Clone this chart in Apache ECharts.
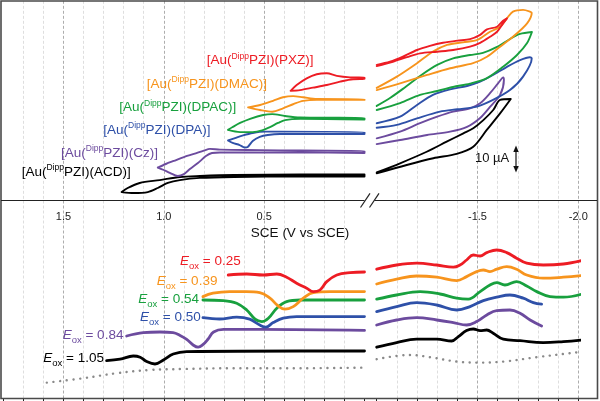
<!DOCTYPE html>
<html>
<head>
<meta charset="utf-8">
<script src="https://cdn.jsdelivr.net/npm/echarts@6.0.0/dist/echarts.min.js"></script>
<style>
html,body{margin:0;padding:0;background:#fff;}
#chart{width:600px;height:401px;}
</style>
</head>
<body>
<div id="chart"></div>
<script>
// ---------- DATA (potential in V vs SCE; CV current in µA with offsets; DPV in a.u. with offsets) ----------
const compounds = ['PXZ', 'DMAC', 'DPAC', 'DPA', 'Cz', 'ACD'];
const eoxLabels = ['0.25', '0.39', '0.54', '0.50', '0.84', '1.05'];
const leftTickLabels = ['1.5', '1.0', '0.5'];
const rightTickLabels = ['-1.5', '-2.0'];

// CV, oxidation side (left)
const cvPXZ_L = [[0.368,45.5],[0.338,47.9],[0.288,50.7],[0.238,52.4],[0.188,52.8],[0.138,51.7],[0.072,51.1],[0.0,51.0],[0.0,50.4],[0.057,50.3],[0.122,49.3],[0.188,47.9],[0.257,46.8],[0.321,45.8],[0.368,45.5]];
const cvDMAC_L = [[0.58,38.6],[0.52,39.6],[0.456,41.3],[0.406,42.8],[0.356,43.3],[0.306,42.8],[0.237,42.1],[0.0,42.0],[0.0,41.7],[0.237,41.7],[0.306,41.3],[0.356,39.9],[0.406,38.2],[0.46,36.8],[0.52,37.5],[0.58,38.6]];
const cvDPAC_L = [[0.68,29.2],[0.657,30.4],[0.62,32.1],[0.57,33.8],[0.505,35.4],[0.46,35.8],[0.396,35.0],[0.321,34.4],[0.0,34.2],[0.0,33.5],[0.321,33.8],[0.396,33.3],[0.431,32.1],[0.471,30.4],[0.51,29.0],[0.557,28.3],[0.62,28.3],[0.68,29.2]];
const cvDPA_L = [[0.68,24.8],[0.645,25.8],[0.605,26.9],[0.557,27.9],[0.497,28.5],[0.421,28.5],[0.0,28.3],[0.0,27.5],[0.421,27.5],[0.482,27.1],[0.522,26.3],[0.557,24.6],[0.582,22.1],[0.597,21.9],[0.622,22.9],[0.657,23.8],[0.68,24.8]];
const cvCz_L = [[1.03,13.5],[0.99,15.0],[0.95,16.3],[0.90,17.9],[0.85,19.2],[0.80,20.6],[0.77,21.3],[0.72,21.0],[0.52,20.8],[0.32,20.6],[0.0,20.4],[0.0,19.6],[0.32,19.8],[0.52,19.8],[0.72,19.8],[0.76,19.6],[0.79,18.3],[0.83,15.4],[0.87,12.9],[0.90,10.8],[0.93,10.0],[0.97,11.3],[1.00,12.5],[1.03,13.5]];
const cvACD_L = [[1.21,3.3],[1.18,5.0],[1.12,7.1],[1.02,8.3],[0.92,9.6],[0.82,10.0],[0.65,10.4],[0.32,10.6],[0.0,10.6],[0.0,9.8],[0.32,9.8],[0.65,9.6],[0.82,9.2],[0.92,8.3],[0.98,7.1],[1.03,5.0],[1.08,3.3],[1.15,2.9],[1.21,3.3]];

// CV, reduction side (right)
const cvPXZ_R = [[-1.0,56.3],[-1.066,57.6],[-1.13,59.7],[-1.2,62.5],[-1.264,64.2],[-1.329,65.5],[-1.4,66.4],[-1.463,67.0],[-1.513,68.8],[-1.547,71.1],[-1.597,72.2],[-1.627,74.7],[-1.646,75.7],[-1.627,73.6],[-1.597,70.1],[-1.562,68.0],[-1.513,65.5],[-1.463,63.9],[-1.379,62.5],[-1.3,61.8],[-1.215,61.1],[-1.15,59.5],[-1.08,57.6],[-1.0,55.8]];
const cvDMAC_R = [[-1.0,46.7],[-1.1,51.4],[-1.2,57.0],[-1.279,61.8],[-1.349,64.6],[-1.428,65.7],[-1.5,66.7],[-1.562,70.1],[-1.612,72.2],[-1.646,75.7],[-1.676,78.5],[-1.726,79.2],[-1.76,78.5],[-1.769,78.0],[-1.746,73.6],[-1.676,68.0],[-1.612,63.9],[-1.547,59.7],[-1.478,57.0],[-1.364,54.9],[-1.25,52.1],[-1.116,48.6],[-1.0,45.8]];
const cvDPAC_R = [[-1.0,39.2],[-1.066,42.5],[-1.13,46.3],[-1.215,51.7],[-1.3,56.3],[-1.379,59.0],[-1.463,60.4],[-1.527,61.3],[-1.597,63.8],[-1.661,67.1],[-1.711,69.2],[-1.77,70.0],[-1.746,65.4],[-1.696,60.4],[-1.627,55.5],[-1.547,50.8],[-1.463,48.5],[-1.379,47.1],[-1.3,45.4],[-1.215,43.8],[-1.116,40.4],[-1.0,37.5]];
const cvDPA_R = [[-1.0,32.0],[-1.116,34.7],[-1.2,39.6],[-1.279,43.8],[-1.364,46.1],[-1.448,47.5],[-1.513,49.3],[-1.577,52.1],[-1.646,55.5],[-1.711,58.3],[-1.76,59.5],[-1.769,59.0],[-1.726,51.4],[-1.661,45.8],[-1.577,41.7],[-1.497,38.9],[-1.4,37.8],[-1.314,36.8],[-1.2,34.0],[-1.1,31.3],[-1.0,30.1]];
const cvCz_R = [[-1.0,25.7],[-1.116,28.5],[-1.215,32.0],[-1.3,34.7],[-1.379,36.8],[-1.463,38.2],[-1.513,40.3],[-1.562,44.5],[-1.602,48.6],[-1.628,51.1],[-1.631,50.0],[-1.612,43.8],[-1.562,38.8],[-1.513,34.2],[-1.448,30.5],[-1.364,28.5],[-1.25,27.1],[-1.116,25.0],[-1.0,23.3]];
const cvACD_R = [[-1.0,11.5],[-1.116,15.3],[-1.248,20.1],[-1.347,24.3],[-1.43,27.8],[-1.479,29.9],[-1.529,33.3],[-1.578,37.5],[-1.612,41.7],[-1.665,42.1],[-1.612,36.1],[-1.546,29.2],[-1.479,22.2],[-1.397,19.2],[-1.281,17.4],[-1.149,14.6],[-1.0,11.1]];

// DPV, oxidation side (left)
const dpvPXZ_L = [[0.679,62],[0.587,62.5],[0.504,62],[0.437,62.5],[0.388,60.9],[0.338,57.9],[0.288,55.4],[0.255,53.7],[0.222,54.5],[0.188,58.7],[0.138,62],[0.072,63.2],[0.0,63.5]];
const dpvDMAC_L = [[0.805,51.2],[0.755,52.9],[0.672,53.7],[0.589,53.7],[0.522,53.2],[0.471,50.4],[0.43,46.5],[0.397,44.9],[0.355,46.2],[0.305,50.4],[0.255,53.2],[0.172,53.7],[0.0,53.7]];
const dpvDPAC_L = [[0.805,49.5],[0.703,49.2],[0.637,47.9],[0.587,44.5],[0.545,39.9],[0.512,38.7],[0.479,40.4],[0.437,45.4],[0.388,48.7],[0.321,49.5],[0.0,49.5]];
const dpvDPA_L = [[0.805,40.7],[0.722,40.0],[0.637,40.9],[0.572,39.9],[0.522,37.0],[0.492,35.9],[0.455,38.2],[0.405,40.4],[0.338,41.2],[0.0,41.2]];
const dpvCz_L = [[1.185,31.5],[1.102,33.2],[1.019,33.5],[0.954,33.2],[0.919,31.8],[0.886,29.8],[0.854,27.0],[0.829,25.9],[0.804,27.3],[0.779,30.0],[0.752,33.5],[0.702,34.8],[0.52,34.8],[0.0,34.3]];
const dpvACD_L = [[1.285,19.2],[1.218,19.9],[1.152,21.5],[1.118,20.9],[1.085,18.7],[1.044,17.5],[1.002,19.5],[0.953,22.5],[0.886,23.7],[0.321,24.0],[0.0,24.0]];
const dpvBlank_L = [[1.583,8.2],[1.401,10.4],[1.235,12.9],[1.069,14.5],[0.903,15.0],[0.655,15.4],[0.321,15.4],[0.0,15.7]];

// DPV, reduction side (right)
const dpvPXZ_R = [[-1.0,64.9],[-1.099,67.0],[-1.198,67.9],[-1.298,67.0],[-1.38,65.9],[-1.413,67.0],[-1.446,69.5],[-1.479,72.0],[-1.513,71.5],[-1.546,73.2],[-1.595,74.5],[-1.645,73.2],[-1.694,70.4],[-1.744,67.9],[-1.826,67.0],[-1.926,67.5],[-2.017,69.2]];
const dpvDMAC_R = [[-1.0,57.5],[-1.099,59.9],[-1.198,61.5],[-1.298,60.9],[-1.397,59.2],[-1.446,61.2],[-1.496,63.7],[-1.529,64.5],[-1.562,63.7],[-1.595,64.9],[-1.645,66.2],[-1.694,64.9],[-1.744,62.0],[-1.826,60.4],[-1.926,60.9],[-2.017,61.7]];
const dpvDPAC_R = [[-1.0,49.9],[-1.099,52.0],[-1.215,53.7],[-1.314,52.5],[-1.397,50.4],[-1.454,49.9],[-1.513,53.7],[-1.562,57.0],[-1.595,58.2],[-1.636,57.0],[-1.694,58.7],[-1.744,56.5],[-1.794,53.7],[-1.86,51.2],[-1.926,50.9],[-2.017,52.4]];
const dpvDPA_R = [[-1.0,43.7],[-1.099,46.2],[-1.198,48.2],[-1.298,47.0],[-1.397,44.5],[-1.463,46.2],[-1.529,49.2],[-1.595,50.9],[-1.661,52.0],[-1.727,50.4],[-1.777,48.2],[-1.818,47.4]];
const dpvCz_R = [[-1.0,37.0],[-1.099,39.5],[-1.198,40.7],[-1.298,39.5],[-1.38,38.2],[-1.446,37.0],[-1.496,38.7],[-1.546,42.0],[-1.595,44.2],[-1.661,44.5],[-1.711,42.9],[-1.761,39.5],[-1.818,36.5]];
const dpvACD_R = [[-1.0,25.9],[-1.099,28.2],[-1.198,29.9],[-1.298,29.9],[-1.372,29.0],[-1.405,31.2],[-1.446,34.2],[-1.479,35.0],[-1.513,34.2],[-1.546,34.5],[-1.578,32.9],[-1.628,29.9],[-1.711,29.2],[-1.826,28.2],[-1.926,28.7],[-2.017,29.5]];
const dpvBlank_R = [[-1.0,19.9],[-1.165,22.0],[-1.264,20.9],[-1.397,18.7],[-1.496,18.2],[-1.628,18.7],[-1.794,20.9],[-1.959,22.9],[-2.091,24.5]];

// ---------- STYLE ----------
const FONT = '"Liberation Sans", Arial, Helvetica, sans-serif';
const COLORS = {PXZ:'#ed1c24', DMAC:'#f7941d', DPAC:'#18a03e', DPA:'#2e50a8', Cz:'#6c4b9e', ACD:'#000000'};
const MAJOR = '#adadad', MINOR = '#dedede';

const cvL = {PXZ:cvPXZ_L, DMAC:cvDMAC_L, DPAC:cvDPAC_L, DPA:cvDPA_L, Cz:cvCz_L, ACD:cvACD_L};
const cvR = {PXZ:cvPXZ_R, DMAC:cvDMAC_R, DPAC:cvDPAC_R, DPA:cvDPA_R, Cz:cvCz_R, ACD:cvACD_R};
const dpvL = {PXZ:dpvPXZ_L, DMAC:dpvDMAC_L, DPAC:dpvDPAC_L, DPA:dpvDPA_L, Cz:dpvCz_L, ACD:dpvACD_L};
const dpvR = {PXZ:dpvPXZ_R, DMAC:dpvDMAC_R, DPAC:dpvDPAC_R, DPA:dpvDPA_R, Cz:dpvCz_R, ACD:dpvACD_R};

function leftFmt(v){ const k = Math.round(v*10); const s=(k/10).toFixed(1); return (k>0 && k%5===0 && leftTickLabels.indexOf(s)>=0) ? s : ''; }
function rightFmt(v){ const k = Math.round(v*10); const s=(k/10).toFixed(1); return (rightTickLabels.indexOf(s)>=0) ? s : ''; }

function xAxis(gridIndex, min, max, showAxis, fmt, isLeft){
  return {
    type:'value', gridIndex, min, max, interval:0.1, inverse:true, position:'top',
    axisLine:{show:false},
    axisTick:{show:showAxis, inside:true, length:4, lineStyle:{color:'#222', width:1}},
    axisLabel:{show:showAxis, inside:true, margin:11, fontSize:11, color:'#222', fontFamily:FONT, formatter:fmt},
    splitLine:{show:true, showMinLine: !isLeft, showMaxLine: false,
      lineStyle:{color: isLeft ? [MINOR,MINOR,MINOR,MINOR,MAJOR] : [MAJOR,MINOR,MINOR,MINOR,MINOR], type:[3,2], width:1}}
  };
}
function yAxis(gridIndex, max){ return {type:'value', gridIndex, min:0, max, show:false}; }

const series = [];
function addLine(data, color, idx, width, extra){
  series.push(Object.assign({type:'line', data, xAxisIndex:idx, yAxisIndex:idx, showSymbol:false, symbol:'none',
    smooth:0.35, clip:false, silent:true, lineStyle:{color, width, cap:'round', join:'round'}}, extra||{}));
}
addLine(dpvBlank_L, '#8a8a8a', 2, 2.4, {smooth:0.4, lineStyle:{color:'#8a8a8a', width:2.4, type:[0.1,6.6], cap:'round'}});
addLine(dpvBlank_R, '#8a8a8a', 3, 2.4, {smooth:0.4, lineStyle:{color:'#8a8a8a', width:2.4, type:[0.1,6.6], cap:'round'}});
compounds.slice().reverse().forEach(c => {
  addLine(cvL[c], COLORS[c], 0, 1.9, {smooth:0.3});
  addLine(cvR[c], COLORS[c], 1, 1.9, {smooth:0.3});
  addLine(dpvL[c], COLORS[c], 2, 2.8, {smooth:0.4});
  addLine(dpvR[c], COLORS[c], 3, 2.8, {smooth:0.4});
});

// ---------- ANNOTATIONS ----------
const cvLabelPos = [[206.7,60.5],[146.7,84],[119.3,107.5],[103.3,130],[61,153],[21.7,172]];
const eoxPos = [[180,261.3],[156.7,281],[138.3,299.3],[140,317.3],[62.7,335.7],[43.3,358.3]];
const graphics = [];
compounds.forEach((c,i) => {
  const col = COLORS[c];
  graphics.push({type:'text', x:cvLabelPos[i][0], y:cvLabelPos[i][1], z:50, silent:true,
    style:{text:'{m|[Au(}{s|Dipp}{m|PZI)(' + c + ')]}', verticalAlign:'middle', align:'left',
      rich:{m:{fontSize:13.5, fontFamily:FONT, fill:col, lineHeight:17, verticalAlign:'middle'},
            s:{fontSize:8.5, fontFamily:FONT, fill:col, lineHeight:10, verticalAlign:'top'}}}});
  graphics.push({type:'text', x:eoxPos[i][0], y:eoxPos[i][1], z:50, silent:true,
    style:{text:'{e|E}{o|ox}{m| = ' + eoxLabels[i] + '}', verticalAlign:'middle', align:'left',
      rich:{e:{fontSize:13.5, fontFamily:FONT, fontStyle:'italic', fill:col, lineHeight:20, verticalAlign:'middle'},
            o:{fontSize:9.5, fontFamily:FONT, fill:col, lineHeight:10, verticalAlign:'bottom'},
            m:{fontSize:13.5, fontFamily:FONT, fill:col, lineHeight:20, verticalAlign:'middle'}}}});
});
// frame and panel divider with break marks
graphics.push({type:'rect', z:60, silent:true, shape:{x:1, y:1, width:596.5, height:397.5}, style:{fill:'none', stroke:'#4a4a4a', lineWidth:1.6}});
graphics.push({type:'line', z:60, silent:true, shape:{x1:1, y1:200.5, x2:364.5, y2:200.5}, style:{stroke:'#222', lineWidth:1.2}});
graphics.push({type:'line', z:60, silent:true, shape:{x1:374.5, y1:200.5, x2:597, y2:200.5}, style:{stroke:'#222', lineWidth:1.2}});
graphics.push({type:'line', z:60, silent:true, shape:{x1:360.5, y1:207.5, x2:370, y2:193.3}, style:{stroke:'#222', lineWidth:1.2}});
graphics.push({type:'line', z:60, silent:true, shape:{x1:369.5, y1:207.5, x2:379, y2:193.3}, style:{stroke:'#222', lineWidth:1.2}});
// axis title
graphics.push({type:'text', z:50, silent:true, x:300, y:233, style:{text:'SCE (V vs SCE)', fontSize:13.5, fontFamily:FONT, fill:'#111', align:'center', verticalAlign:'middle'}});
// scale bar
graphics.push({type:'text', z:50, silent:true, x:475, y:158.5, style:{text:'10 µA', fontSize:13, fontFamily:FONT, fill:'#111', align:'left', verticalAlign:'middle'}});
graphics.push({type:'line', z:50, silent:true, shape:{x1:516, y1:150, x2:516, y2:168}, style:{stroke:'#111', lineWidth:1.2}});
graphics.push({type:'polygon', z:50, silent:true, shape:{points:[[516,145.5],[513.3,152],[518.7,152]]}, style:{fill:'#111'}});
graphics.push({type:'polygon', z:50, silent:true, shape:{points:[[516,172.5],[513.3,166],[518.7,166]]}, style:{fill:'#111'}});

const chart = echarts.init(document.getElementById('chart'), null, {renderer:'canvas'});
chart.setOption({
  animation:false,
  backgroundColor:'#ffffff',
  grid:[
    {left:3.24, top:0.8, width:361.26, height:199.2, containLabel:false, outerBoundsMode:'none'},
    {left:376.7, top:0.8, width:201.6, height:199.2, containLabel:false, outerBoundsMode:'none'},
    {left:3.24, top:200.5, width:361.26, height:198.5, containLabel:false, outerBoundsMode:'none'},
    {left:376.7, top:200.5, width:201.6, height:198.5, containLabel:false, outerBoundsMode:'none'}
  ],
  xAxis:[
    xAxis(0, 0, 1.8, false, leftFmt, true),
    xAxis(1, -2.0, -1.0, false, rightFmt, false),
    xAxis(2, 0, 1.8, true, leftFmt, true),
    xAxis(3, -2.0, -1.0, true, rightFmt, false)
  ],
  yAxis:[yAxis(0,83), yAxis(1,83), yAxis(2,99.25), yAxis(3,99.25)],
  series,
  graphic:graphics
});
</script>
</body>
</html>
